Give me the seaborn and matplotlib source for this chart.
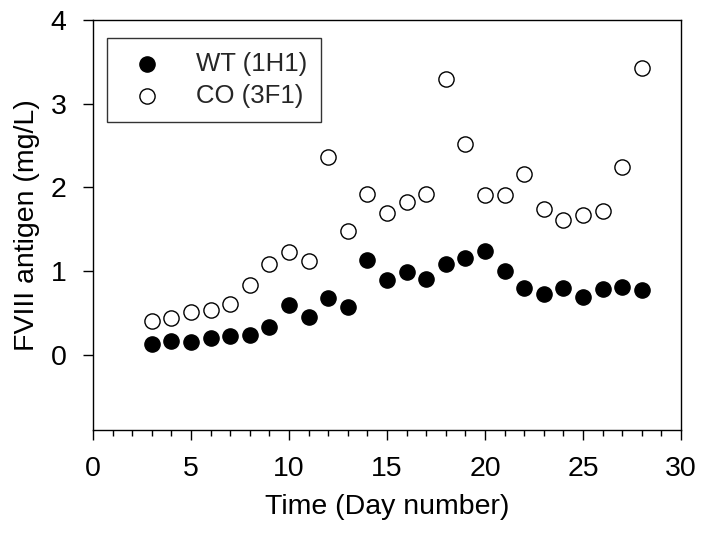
import matplotlib
matplotlib.use("Agg")
import matplotlib.pyplot as plt
import seaborn as sns
import pandas as pd
from matplotlib.ticker import MultipleLocator

days = list(range(3, 29))
wt_1h1 = [0.13, 0.16, 0.15, 0.20, 0.22, 0.24, 0.33, 0.59, 0.45, 0.68, 0.57,
          1.13, 0.89, 0.99, 0.91, 1.08, 1.16, 1.24, 1.00, 0.80, 0.72, 0.80,
          0.69, 0.78, 0.81, 0.77]
co_3f1 = [0.40, 0.44, 0.51, 0.53, 0.61, 0.83, 1.08, 1.23, 1.12, 2.36, 1.48,
          1.92, 1.69, 1.82, 1.92, 3.30, 2.52, 1.91, 1.91, 2.16, 1.74, 1.61,
          1.67, 1.72, 2.24, 3.43]
series_names = ["WT (1H1)", "CO (3F1)"]

df = pd.concat([
    pd.DataFrame({"day": days, "value": wt_1h1, "series": series_names[0]}),
    pd.DataFrame({"day": days, "value": co_3f1, "series": series_names[1]}),
])

sns.set_theme(style="ticks")
plt.rcParams["font.family"] = ["Liberation Sans", "DejaVu Sans"]

fig = plt.figure(figsize=(7.01, 5.35), dpi=100)
ax = fig.add_axes([93/701, 1 - 430/535, (681-93)/701, (430-20)/535])

sns.scatterplot(data=df[df.series == series_names[0]], x="day", y="value",
                ax=ax, s=120, color="black", edgecolor="black", linewidth=1,
                label=series_names[0], zorder=3)
sns.scatterplot(data=df[df.series == series_names[1]], x="day", y="value",
                ax=ax, s=120, color="white", edgecolor="black", linewidth=1,
                label=series_names[1], zorder=3)

ax.set_xlim(0, 30)
ax.set_ylim(-0.9, 4)
ax.xaxis.set_major_locator(MultipleLocator(5))
ax.xaxis.set_minor_locator(MultipleLocator(1))
ax.set_yticks([0, 1, 2, 3, 4])
ax.tick_params(axis="both", which="major", length=7, width=1, labelsize=20.5,
               color="black", labelcolor="black", direction="out")
ax.tick_params(axis="x", which="minor", length=4, width=1, color="black")
ax.tick_params(axis="x", pad=12)
ax.tick_params(axis="y", pad=12)
for sp in ax.spines.values():
    sp.set_visible(True)
    sp.set_color("black")
    sp.set_linewidth(1)

ax.set_xlabel("Time (Day number)", fontsize=20.5, color="black", labelpad=8)
ax.set_ylabel("FVIII antigen (mg/L)", fontsize=20.5, color="black", labelpad=8)

leg = ax.legend(loc="upper left", bbox_to_anchor=(14/588, 1 - 18/410),
                fontsize=18.5, frameon=True, fancybox=False, edgecolor="black",
                borderpad=0.55, handletextpad=0.9, labelspacing=0.31,
                borderaxespad=0, markerscale=1.0)
leg.get_frame().set_linewidth(1)

fig.savefig("out.png", dpi=100)
